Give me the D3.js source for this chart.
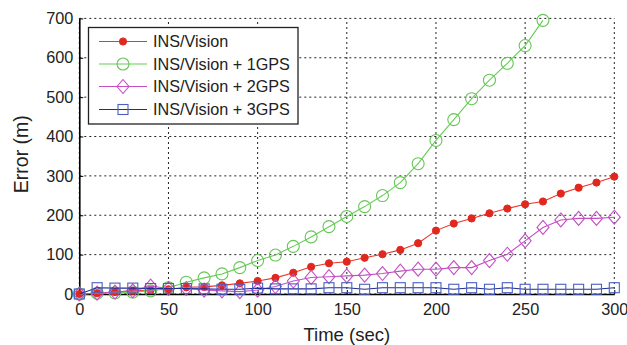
<!DOCTYPE html>
<html>
<head>
<meta charset="utf-8">
<script src="https://cdn.jsdelivr.net/npm/d3@7"></script>
<style>
  html, body { margin: 0; padding: 0; background: #fff; }
  svg { display: block; font-family: "Liberation Sans", Arial, sans-serif; }
</style>
</head>
<body>
<svg id="chart" width="627" height="345"></svg>
<script>
// Sample times (sec)
const timeAll = d3.range(0, 301, 10);
const time1GPS = d3.range(0, 261, 10);

// Position error (m) per configuration
const insVision = [0, 2, 5, 8, 10, 12, 17, 18, 22, 27, 33, 41, 54, 69, 78, 82, 92, 101, 112, 129, 161,
  179, 192, 205, 217, 228, 235, 255, 270, 283, 298];
const plus1GPS = [0, 2, 3, 5, 8, 16, 30, 41, 51, 67, 85, 99, 121, 145, 171, 197, 222, 250, 283, 331, 390,
  443, 496, 543, 586, 631, 695];
const plus2GPS = [0, 2, 5, 8, 20, 14, 14, 10, 8, 6, 10, 19, 33, 42, 44, 46, 48, 52, 58, 63, 63,
  67, 67, 85, 101, 135, 169, 188, 192, 192, 195];
const plus3GPS = [0, 16, 15, 15, 14, 14, 14, 13, 12, 12, 15, 13, 13, 13, 16, 16, 12, 16, 16, 16, 16,
  12, 16, 12, 16, 12, 12, 12, 12, 12, 16];

const seriesNames = ["INS/Vision", "INS/Vision + 1GPS", "INS/Vision + 2GPS", "INS/Vision + 3GPS"];
const xTicks = [0, 50, 100, 150, 200, 250, 300];
const yTicks = [0, 100, 200, 300, 400, 500, 600, 700];

const series = [
  { name: seriesNames[0], t: timeAll, v: insVision, line: "#e8372c", marker: "dot", stroke: "#e0281e", fill: "#e0281e" },
  { name: seriesNames[1], t: time1GPS, v: plus1GPS, line: "#66cc55", marker: "circle", stroke: "#66c655", fill: "none" },
  { name: seriesNames[2], t: timeAll, v: plus2GPS, line: "#c44fc4", marker: "diamond", stroke: "#c44fc4", fill: "none" },
  { name: seriesNames[3], t: timeAll, v: plus3GPS, line: "#1f2d94", marker: "square", stroke: "#4a5fc0", fill: "none" }
];

const svg = d3.select("#chart");
const m = { left: 79.3, right: 627 - 614.3, top: 18.4, bottom: 345 - 294 };
const W = 627 - m.left - m.right, H = 345 - m.top - m.bottom;

const x = d3.scaleLinear().domain([0, 300]).range([m.left, m.left + W]);
const y = d3.scaleLinear().domain([0, 700]).range([m.top + H, m.top]);

// Dotted grid
const grid = svg.append("g");
grid.selectAll("line.gx").data(xTicks).join("line")
  .attr("x1", d => x(d)).attr("x2", d => x(d))
  .attr("y1", y(0)).attr("y2", y(700))
  .attr("stroke", "#222").attr("stroke-width", 1).attr("stroke-dasharray", "2,3");
grid.selectAll("line.gy").data(yTicks).join("line")
  .attr("y1", d => y(d)).attr("y2", d => y(d))
  .attr("x1", x(0)).attr("x2", x(300))
  .attr("stroke", "#222").attr("stroke-width", 1).attr("stroke-dasharray", "2,3");

// Axes with inward ticks
const xAxis = svg.append("g").attr("transform", `translate(0,${y(0)})`)
  .call(d3.axisBottom(x).tickValues(xTicks).tickSize(-4).tickPadding(9).tickSizeOuter(0));
const yAxis = svg.append("g").attr("transform", `translate(${x(0)},0)`)
  .call(d3.axisLeft(y).tickValues(yTicks).tickSize(-4).tickPadding(6).tickSizeOuter(0));
[xAxis, yAxis].forEach(a => {
  a.select(".domain").attr("stroke", "#000").attr("stroke-width", 1.6);
  a.selectAll(".tick line").attr("stroke", "#000");
  a.selectAll(".tick text").attr("fill", "#222").attr("font-size", 16.3)
    .attr("font-family", "'Liberation Sans', Arial, sans-serif");
});

// Axis titles
svg.append("text").attr("x", (x(0) + x(300)) / 2).attr("y", 341)
  .attr("text-anchor", "middle").attr("font-size", 18.5).attr("fill", "#222").text("Time (sec)");
svg.append("text").attr("transform", `translate(28,${(y(0) + y(700)) / 2 - 2}) rotate(-90)`)
  .attr("text-anchor", "middle").attr("font-size", 19.5).attr("fill", "#222").text("Error (m)");

function drawMarker(g, kind, s) {
  if (kind === "dot") {
    g.append("circle").attr("r", 3.6).attr("fill", s.fill).attr("stroke", s.stroke);
  } else if (kind === "circle") {
    g.append("circle").attr("r", 6).attr("fill", "none").attr("stroke", s.stroke).attr("stroke-width", 1.1);
  } else if (kind === "diamond") {
    g.append("path").attr("d", "M0,-7L6,0L0,7L-6,0Z").attr("fill", "none").attr("stroke", s.stroke).attr("stroke-width", 1.1);
  } else {
    g.append("rect").attr("x", -5).attr("y", -5).attr("width", 10).attr("height", 10)
      .attr("fill", "none").attr("stroke", s.stroke).attr("stroke-width", 1.1);
  }
}

const line = d3.line().x(d => x(d[0])).y(d => y(d[1]));
series.forEach(s => {
  const pts = s.t.map((t, i) => [t, s.v[i]]);
  const g = svg.append("g");
  g.append("path").attr("d", line(pts)).attr("fill", "none").attr("stroke", s.line).attr("stroke-width", 1.1);
  pts.forEach(p => {
    const mg = g.append("g").attr("transform", `translate(${x(p[0])},${y(p[1])})`);
    drawMarker(mg, s.marker, s);
  });
});

// Legend
const lg = svg.append("g");
lg.append("rect").attr("x", 88.5).attr("y", 27.5).attr("width", 209.5).attr("height", 96.5)
  .attr("fill", "#fff").attr("stroke", "#222").attr("stroke-width", 1.3);
const rowY = [41.5, 64, 86.5, 109.5];
series.forEach((s, i) => {
  lg.append("line").attr("x1", 99).attr("x2", 147).attr("y1", rowY[i]).attr("y2", rowY[i])
    .attr("stroke", s.line).attr("stroke-width", 1.1);
  drawMarker(lg.append("g").attr("transform", `translate(123,${rowY[i]})`), s.marker, s);
  lg.append("text").attr("x", 153).attr("y", rowY[i] + 5.8).attr("font-size", 16.2)
    .attr("fill", "#222").text(s.name);
});
</script>
</body>
</html>
